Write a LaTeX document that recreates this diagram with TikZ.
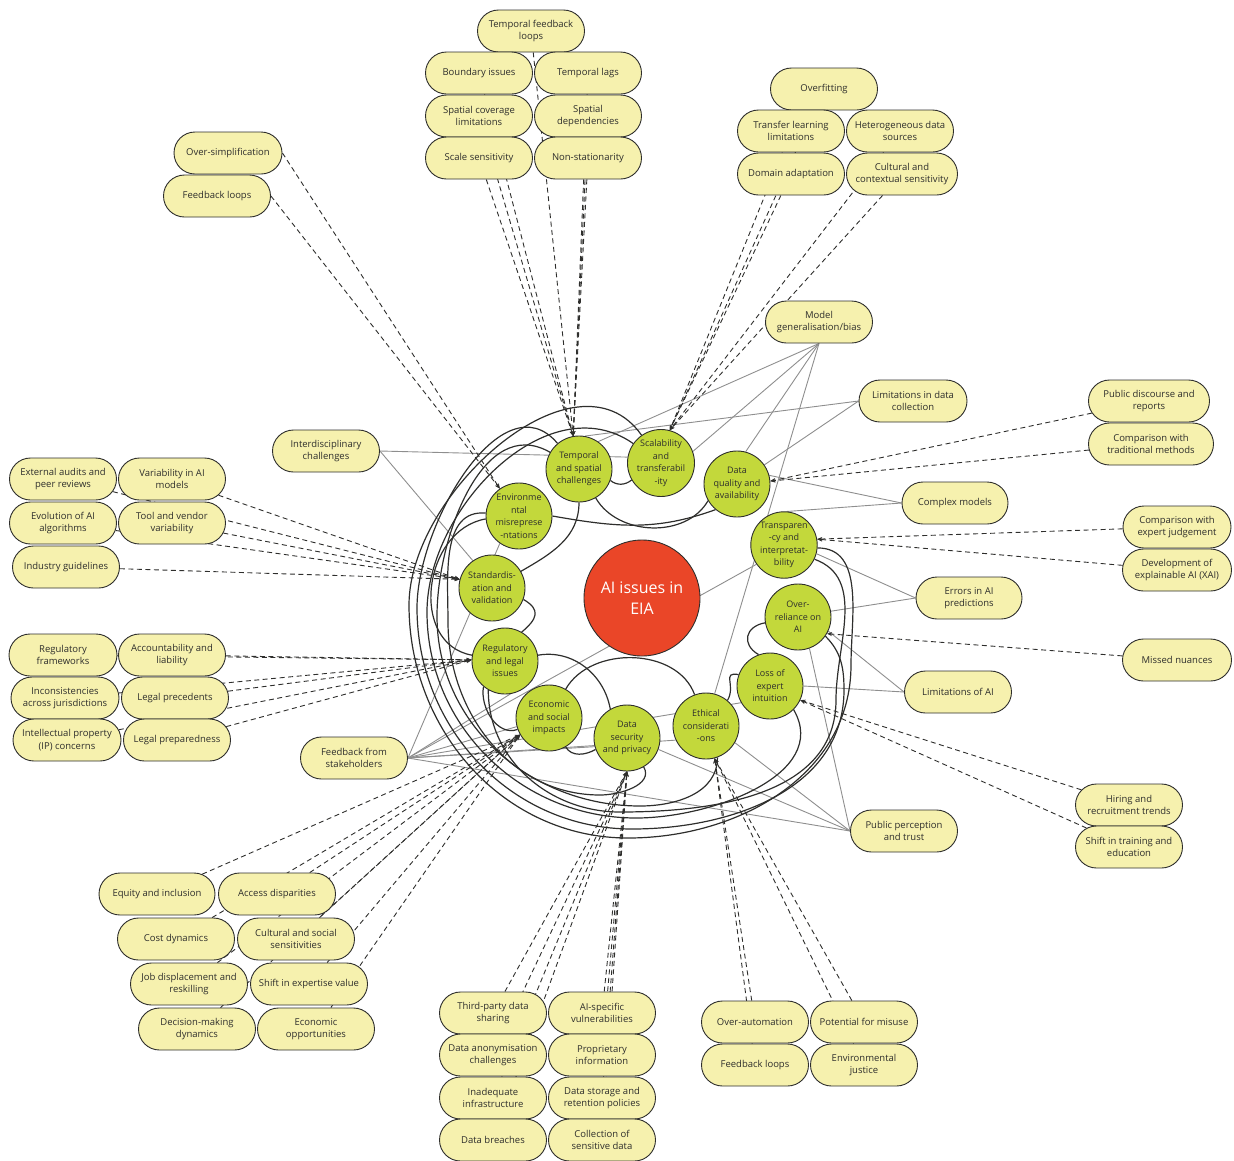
\documentclass[tikz,border=0pt]{standalone}
\usepackage{fontspec}
\setmainfont{Open Sans}
\usetikzlibrary{arrows.meta,shapes.misc,backgrounds}
\definecolor{ink}{HTML}{2E2E2C}
\definecolor{cream}{HTML}{F6F1AE}
\definecolor{lime}{HTML}{C3D83B}
\definecolor{flame}{HTML}{EA4628}
\definecolor{wire}{HTML}{8E8E8E}
\tikzset{
  pill/.style={rounded rectangle, draw=ink, fill=cream, line width=0.9pt, minimum height=42pt,
    minimum width={#1+3pt}, inner xsep=2pt, inner ysep=0pt, align=center,
    font=\fontsize{9.5}{12.5}\selectfont, text=ink},
  pill/.default=108pt,
  hub/.style={circle, draw=ink, fill=lime, line width=0.9pt, minimum size=66pt, inner sep=0pt,
    align=center, font=\fontsize{9}{12.5}\selectfont, text=ink},
  core/.style={circle, draw=ink, fill=flame, line width=0.9pt, minimum size=116pt, inner sep=0pt,
    align=center, font=\fontsize{16}{21}\selectfont, text=white},
  lnk/.style={line width=0.9pt, color=wire},
  dsh/.style={-{Stealth[length=5pt,width=4pt]}, line width=0.9pt, color=ink, dash pattern=on 5pt off 3.5pt},
  tie/.style={line width=1.2pt, color=ink},
}

\begin{document}
\begin{tikzpicture}[x=1pt,y=1pt]
  \useasboundingbox (0,0) rectangle (1234,-1160);
  % centre and issue circles
  \node[core] (core) at (642,-598) {AI issues in\\EIA};
  \foreach \nm/\cx/\cy/\txt in {tsc/579/469/{Temporal\\and spatial\\challenges},
      sct/661/463/{Scalability\\and\\transferabil\\-ity},
      dqa/737/484/{Data\\quality and\\availability},
      env/519/516/{Environme\\ntal\\misreprese\\-ntations},
      sav/492/588/{Standardis-\\ation and\\validation},
      tai/784/545/{Transparen\\-cy and\\interpretat-\\bility},
      ora/798/617/{Over-\\reliance on\\AI},
      rli/505/661/{Regulatory\\and legal\\issues},
      lei/770/686/{Loss of\\expert\\intuition},
      esi/549/718/{Economic\\and social\\impacts},
      dsp/627/738/{Data\\security\\and privacy},
      eco/706/726/{Ethical\\considerati\\-ons}}
    \node[hub] (\nm) at (\cx,-\cy) {\txt};

  % sub-issue pills
  \foreach \nm/\cx/\cy/\pw/\txt in {tfl/531/31/108/{Temporal feedback\\loops},
      bdi/479/73/108/{Boundary issues}, tlg/588/73/108/{Temporal lags},
      scl/479/116/108/{Spatial coverage\\limitations}, sdp/588/116/108/{Spatial\\dependencies},
      ssn/479/158/108/{Scale sensitivity}, nst/588/158/108/{Non-stationarity},
      ovf/824/89/108/{Overfitting},
      tll/791/131/108/{Transfer learning\\limitations}, hds/900/131/108/{Heterogeneous data\\sources},
      dad/791/174/108/{Domain adaptation}, ccs/902/174/112/{Cultural and\\contextual sensitivity},
      ovs/228/153/109/{Over-simplification}, fbl/217/196/108/{Feedback loops},
      ear/63/479/108/{External audits and\\peer reviews}, vam/172/479/108/{Variability in AI\\models},
      eaa/63/523/108/{Evolution of AI\\algorithms}, tvv/172/523/108/{Tool and vendor\\variability},
      igl/66/567/108/{Industry guidelines},
      rfw/63/655/109/{Regulatory\\frameworks}, acl/172/655/108/{Accountability and\\liability},
      iaj/65/698/109/{Inconsistencies\\across jurisdictions}, lpr/175/698/108/{Legal precedents},
      ipc/67/740/109/{Intellectual property\\(IP) concerns}, lpp/177/740/108/{Legal preparedness},
      eqi/157/894/117/{Equity and inclusion}, acd/277/894/118/{Access disparities},
      cdy/176/939/118/{Cost dynamics}, css/296/939/118/{Cultural and social\\sensitivities},
      jdr/189/984/118/{Job displacement and\\reskilling}, sev/309/984/118/{Shift in expertise value},
      dmd/197/1029/118/{Decision-making\\dynamics}, eop/316/1029/118/{Economic\\opportunities},
      tpd/493/1013/108/{Third-party data\\sharing}, asv/602/1013/108/{AI-specific\\vulnerabilities},
      dac/493/1055/108/{Data anonymisation\\challenges}, pri/602/1055/108/{Proprietary\\information},
      iin/493/1098/108/{Inadequate\\infrastructure}, dsr/602/1098/108/{Data storage and\\retention policies},
      dbr/493/1140/108/{Data breaches}, csd/602/1140/108/{Collection of\\sensitive data},
      oau/755/1022/108/{Over-automation}, pfm/864/1022/108/{Potential for misuse},
      fbk/755/1065/108/{Feedback loops}, enj/864/1065/108/{Environmental\\justice},
      pdr/1149/401/122/{Public discourse and\\reports}, ctm/1151/444/126/{Comparison with\\traditional methods},
      cej/1177/527/109/{Comparison with\\expert judgement}, xai/1177/570/110/{Development of\\explainable AI (XAI)},
      mnu/1177/660/110/{Missed nuances},
      hrt/1129/805/108/{Hiring and\\recruitment trends}, ste/1129/847/108/{Shift in training and\\education}}
    \node[pill=\pw pt] (\nm) at (\cx,-\cy) {\txt};

  % cross-cutting factors
  \foreach \nm/\cx/\cy/\pw/\txt in {mgb/819/322/108/{Model\\generalisation/bias},
      ldc/913/401/109/{Limitations in data\\collection}, idc/326/451/108/{Interdisciplinary\\challenges},
      cmd/955/503/107/{Complex models}, eap/969/598/107/{Errors in AI\\predictions},
      loa/958/692/108/{Limitations of AI}, ppt/904/831/108/{Public perception\\and trust},
      fst/354/758/108/{Feedback from\\stakeholders}}
    \node[pill=\pw pt] (\nm) at (\cx,-\cy) {\txt};

  % ring waypoints
  \coordinate (w1) at (409,-605); \coordinate (s1) at (628,-838); \coordinate (e1) at (851,-665);
  \coordinate (w2) at (417,-608); \coordinate (s2) at (632,-829); \coordinate (e2) at (844,-690);
  \coordinate (w3) at (427,-612); \coordinate (s3) at (636,-818);
  \coordinate (w4) at (437,-616); \coordinate (s4) at (640,-806);
  \coordinate (w5) at (448,-622); \coordinate (s5) at (600,-795);
  \coordinate (e6) at (836,-700); \coordinate (s6) at (620,-812);

  \begin{pgfonlayer}{background}
    % factor links
    \foreach \t in {tsc.55,sct.20,dqa.75,eco.75} \draw[lnk] (mgb.south) -- (\t);
    \foreach \t in {tsc.80,dqa.35} \draw[lnk] (ldc.west) -- (\t);
    \foreach \t in {sct.170,sav.125} \draw[lnk] (idc.east) -- (\t);
    \foreach \t in {dqa.15,tai.85} \draw[lnk] (cmd.west) -- (\t);
    \foreach \t in {tai.-15,ora.10} \draw[lnk] (eap.west) -- (\t);
    \foreach \t in {ora.-25,lei.0} \draw[lnk] (loa.west) -- (\t);
    \foreach \t in {ora.-70,eco.-30,dsp.-20} \draw[lnk] (ppt.west) -- (\t);
    \foreach \t in {env.235,rli.-35,esi.195,dsp.195,eco.205,lei.210,tai.215,ppt.west}
      \draw[lnk] (fst.east) -- (\t);

    % sub-issues to their issue
    \foreach \s in {tfl,bdi,tlg,scl,sdp,ssn,nst} \draw[dsh] (\s) -- (tsc.100);
    \foreach \s in {ovf,tll,hds,dad,ccs} \draw[dsh] (\s) -- (sct.75);
    \foreach \s in {ovs,fbl} \draw[dsh] (\s.east) -- (env.125);
    \foreach \s in {ear,vam,eaa,tvv,igl} \draw[dsh] (\s) -- (sav.165);
    \foreach \s in {rfw,acl,iaj,lpr,ipc,lpp} \draw[dsh] (\s) -- (rli.178);
    \foreach \s in {eqi,acd,cdy,css,jdr,sev,dmd,eop} \draw[dsh] (\s) -- (esi.210);
    \foreach \s in {tpd,asv,dac,pri,iin,dsr,dbr,csd} \draw[dsh] (\s) -- (dsp.270);
    \foreach \s in {oau,pfm,fbk,enj} \draw[dsh] (\s) -- (eco.285);
    \foreach \s in {pdr,ctm} \draw[dsh] (\s) -- (dqa.5);
    \foreach \s in {cej,xai} \draw[dsh] (\s) -- (tai.10);
    \draw[dsh] (mnu) -- (ora.330);
    \foreach \s in {hrt,ste} \draw[dsh] (\s) -- (lei.335);

    % issue to issue ties
    \draw[tie] (sct.125) to[out=125,in=90] (w1) to[out=-90,in=180] (s1) to[out=0,in=-90] (e1) to[out=90,in=0] (tai.-5);
    \draw[tie] (tsc.130) to[out=130,in=90] (w2) to[out=-90,in=180] (s2) to[out=0,in=-90] (e2) to[out=90,in=-45] (ora.-35);
    \draw[tie] (sct.145) to[out=145,in=90] (w3) to[out=-90,in=180] (s3) to[out=0,in=-60] (lei.-45);
    \draw[tie] (tsc.150) to[out=150,in=90] (w4) to[out=-90,in=180] (s4) to[out=0,in=-90] (eco.-70);
    \draw[tie] (env.175) to[out=175,in=90] (w5) to[out=-90,in=180] (s5) to[out=0,in=-60] (dsp.-60);
    \draw[tie] (tai.-25) to[out=-20,in=90] (e6) to[out=-90,in=0] (s6) to[out=180,in=-90] (rli.-120);
    \draw[tie] (tsc.-20) to[out=-40,in=-140] (sct.-150);
    \draw[tie] (tsc.-60) to[out=-60,in=-120] (dqa.-150);
    \draw[tie] (env.0) to[out=-10,in=-160] (dqa.-130);
    \draw[tie] (tsc.-90) to[out=-90,in=30] (sav.30);
    \draw[tie] (env.185) to[out=190,in=170,looseness=1.2] (rli.170);
    \draw[tie] (sav.-20) to[out=-30,in=40,looseness=1.6] (rli.60);
    \draw[tie] (rli.10) to[out=10,in=100] (dsp.120);
    \draw[tie] (esi.60) to[out=60,in=110] (eco.110);
    \draw[tie] (lei.160) to[out=170,in=60,looseness=1.6] (eco.50);
    \draw[tie] (ora.190) to[out=190,in=150,looseness=1.6] (lei.110);
    \draw[tie] (rli.-130) to[out=-100,in=200] (esi.200);
    \draw[tie] (dsp.200) to[out=210,in=-60] (esi.-60);
  \end{pgfonlayer}
\end{tikzpicture}
\end{document}
